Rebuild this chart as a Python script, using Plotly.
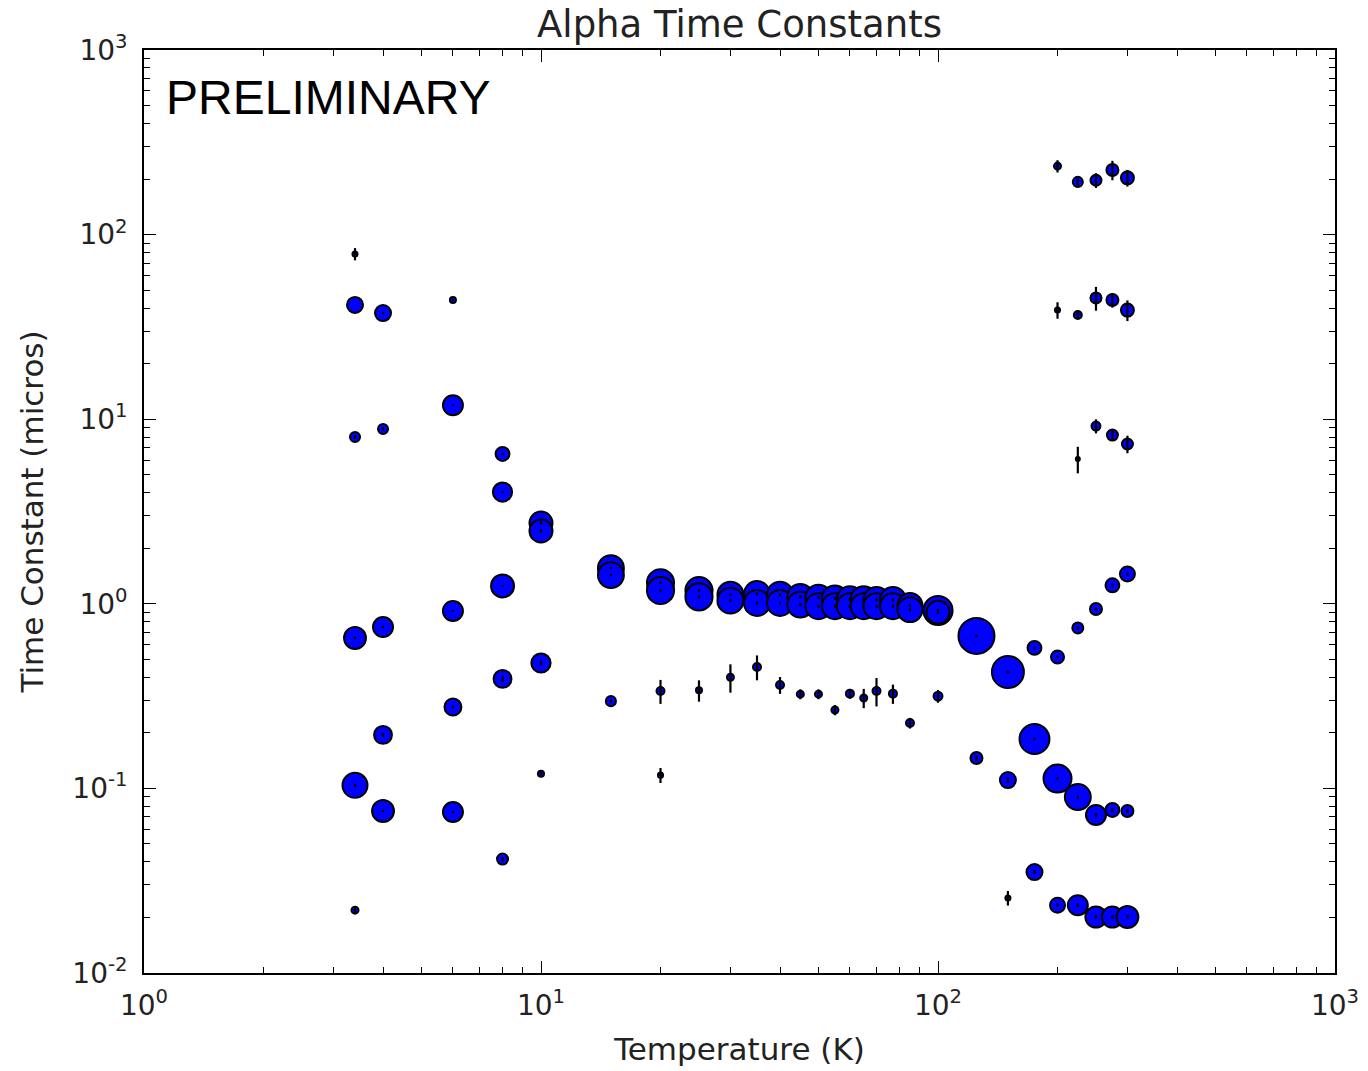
import plotly.graph_objects as go

# ---- data (one entry per fitted component) ----
temperature = [
    3.4, 3.4, 3.4, 3.4, 3.4, 3.4,
    4, 4, 4, 4, 4,
    6, 6, 6, 6, 6,
    8, 8, 8, 8, 8,
    10, 10, 10, 10,
    15, 15, 15,
    20, 20, 20, 20,
    25, 25, 25,
    30, 30, 30,
    35, 35, 35,
    40, 40, 40,
    45, 45, 45,
    50, 50, 50,
    55, 55, 55,
    60, 60, 60,
    65, 65, 65,
    70, 70, 70,
    77, 77, 77,
    85, 85, 85,
    100, 100, 100,
    125, 125,
    150, 150, 150,
    175, 175, 175,
    200, 200, 200, 200, 200,
    225, 225, 225, 225, 225, 225,
    250, 250, 250, 250, 250, 250,
    275, 275, 275, 275, 275, 275,
    300, 300, 300, 300, 300, 300,
]
time_constant = [
    78.5, 41.6, 8.0, 0.653, 0.104, 0.0219,
    37.6, 8.85, 0.748, 0.195, 0.0755,
    44.2, 11.9, 0.914, 0.276, 0.0745,
    6.48, 4.03, 1.25, 0.392, 0.0414,
    2.74, 2.48, 0.478, 0.120,
    1.56, 1.43, 0.297,
    1.30, 1.18, 0.337, 0.118,
    1.18, 1.09, 0.34,
    1.12, 1.04, 0.40,
    1.13, 1.01, 0.455,
    1.12, 1.01, 0.363,
    1.09, 0.99, 0.324,
    1.08, 0.97, 0.324,
    1.07, 0.97, 0.266,
    1.06, 0.97, 0.326,
    1.06, 0.97, 0.309,
    1.05, 0.97, 0.337,
    1.05, 0.97, 0.326,
    0.98, 0.93, 0.226,
    0.92, 0.90, 0.316,
    0.67, 0.146,
    0.427, 0.111, 0.0255,
    0.577, 0.185, 0.0352,
    235, 39, 0.515, 0.113, 0.0233,
    193, 36.7, 6.09, 0.74, 0.0898, 0.0233,
    197, 45.4, 9.18, 0.937, 0.0718, 0.0201,
    224, 44.2, 8.2, 1.26, 0.0764, 0.0201,
    203, 39, 7.34, 1.45, 0.0755, 0.0201,
]
amplitude = [  # relative weight (%) -> marker area
    1.6, 16, 6.3, 30, 39, 3.1,
    16, 6.3, 25, 20, 30,
    2.3, 25, 25, 18, 25,
    12, 23, 33, 20, 7.6,
    33, 33, 23, 2.3,
    42, 42, 6.3,
    46, 46, 4, 1.6,
    46, 46, 2.3,
    42, 42, 3.1,
    42, 42, 4,
    42, 42, 4,
    42, 42, 3.1,
    42, 42, 3.1,
    42, 42, 3.1,
    42, 42, 4,
    42, 42, 3.1,
    42, 42, 4,
    42, 42, 4,
    39, 39, 4,
    53, 33, 5,
    81, 9,
    64, 16, 1.6,
    12, 56, 16,
    3.1, 1.6, 10.6, 49, 14,
    6.3, 4, 1, 7.6, 42, 25,
    7.6, 7.6, 5, 9, 25, 28,
    9, 9, 7.6, 12, 12, 28,
    10.6, 10.6, 7.6, 14, 9, 30,
]
tau_error = [
    6, 0, 0.2, 0.01, 0.002, 0.001,
    0.5, 0.2, 0.01, 0.005, 0.001,
    0.5, 0.1, 0.01, 0.005, 0.001,
    0.1, 0.05, 0.01, 0.015, 0.001,
    0.05, 0.05, 0.015, 0.002,
    0.02, 0.02, 0.005,
    0.02, 0.02, 0.05, 0.011,
    0.02, 0.02, 0.045,
    0.02, 0.02, 0.07,
    0.02, 0.02, 0.07,
    0.02, 0.02, 0.038,
    0.02, 0.02, 0.02,
    0.02, 0.02, 0.02,
    0.02, 0.02, 0.017,
    0.02, 0.02, 0.02,
    0.02, 0.02, 0.037,
    0.02, 0.02, 0.059,
    0.02, 0.02, 0.039,
    0.02, 0.02, 0.015,
    0.02, 0.02, 0.025,
    0.01, 0.005,
    0.005, 0.004, 0.0023,
    0.01, 0.003, 0.001,
    18, 4, 0.01, 0.002, 0.0005,
    8, 1.5, 1.0, 0.015, 0.002, 0.0005,
    18, 6.7, 0.8, 0.02, 0.002, 0.0005,
    27, 4, 0.5, 0.03, 0.002, 0.0005,
    21, 5, 0.8, 0.03, 0.002, 0.0005,
]

x_tickvals = [1, 10, 100, 1000]
x_ticktext = ["10<sup>0</sup>", "10<sup>1</sup>", "10<sup>2</sup>", "10<sup>3</sup>"]
y_tickvals = [0.01, 0.1, 1, 10, 100, 1000]
y_ticktext = ["10<sup>-2</sup>", "10<sup>-1</sup>", "10<sup>0</sup>",
              "10<sup>1</sup>", "10<sup>2</sup>", "10<sup>3</sup>"]

minor_x = [m * 10 ** k for k in range(0, 3) for m in range(2, 10)]
minor_y = [m * 10 ** k for k in range(-2, 3) for m in range(2, 10)]

fig = go.Figure()
fig.add_trace(go.Scatter(
    x=temperature, y=time_constant, mode="markers",
    marker=dict(size=amplitude, sizemode="area", sizeref=1 / 8, opacity=1,
                color="#0000ff", line=dict(color="black", width=2)),
    showlegend=False, hoverinfo="x+y",
))
fig.add_trace(go.Scatter(
    x=temperature, y=time_constant, mode="markers",
    marker=dict(size=1, color="rgba(0,0,0,0)", line=dict(width=0)),
    error_y=dict(type="data", array=tau_error, arrayminus=tau_error,
                 color="black", thickness=2.2, width=0, symmetric=False),
    showlegend=False, hoverinfo="skip",
))

axis_common = dict(
    type="log", showgrid=False, zeroline=False, automargin=False,
    showline=True, linecolor="black", linewidth=1.8, mirror="allticks",
    ticks="inside", ticklen=12, tickwidth=1.2, tickcolor="black",
    tickfont=dict(family="DejaVu Sans", size=28, color="#222"),
)

fig.update_xaxes(
    **axis_common, range=[0, 3], tickmode="array",
    tickvals=x_tickvals, ticktext=x_ticktext, ticklabelstandoff=6,
    minor=dict(ticks="inside", ticklen=6, tickwidth=1, tickcolor="black",
               tickmode="array", tickvals=minor_x, showgrid=False),
    title=dict(text="Temperature (K)", standoff=18,
               font=dict(family="DejaVu Sans", size=31, color="#222")),
)
fig.update_yaxes(
    **axis_common, range=[-2, 3], tickmode="array",
    tickvals=y_tickvals, ticktext=y_ticktext, ticklabelstandoff=9,
    minor=dict(ticks="inside", ticklen=6, tickwidth=1, tickcolor="black",
               tickmode="array", tickvals=minor_y, showgrid=False),
    title=dict(text="Time Constant (micros)", standoff=19,
               font=dict(family="DejaVu Sans", size=31, color="#222")),
)

fig.update_layout(
    width=1368, height=1071,
    margin=dict(l=144, r=33, t=50, b=98),
    paper_bgcolor="white", plot_bgcolor="white",
    title=dict(text="Alpha Time Constants", x=0.5, xref="paper",
               y=1 - 24 / 1071, yref="container", yanchor="middle", xanchor="center",
               font=dict(family="DejaVu Sans", size=37, color="#222")),
    annotations=[dict(text="PRELIMINARY", x=0.017, y=0.949, xref="paper", yref="paper",
                      xanchor="left", yanchor="middle", showarrow=False,
                      font=dict(family="Liberation Sans", size=48, color="black"))],
)

fig.write_html("out.html", config={"displayModeBar": False},
               post_script="document.body.style.margin='0';document.body.style.overflow='hidden';")
